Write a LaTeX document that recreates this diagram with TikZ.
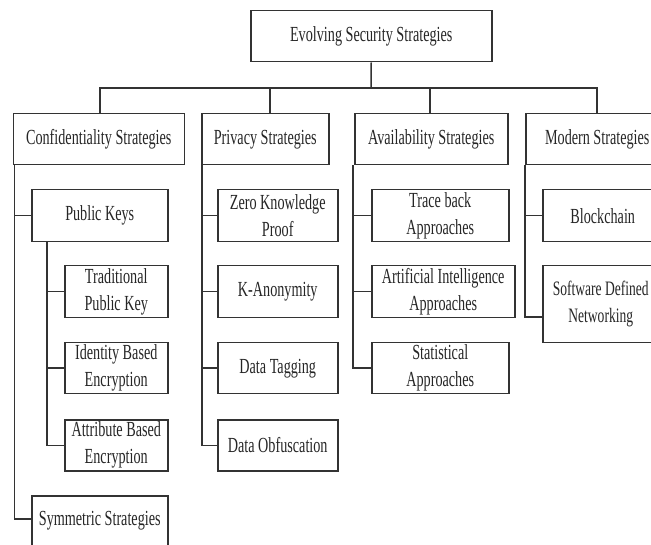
\documentclass[tikz,border=0pt]{standalone}
\usepackage{fontspec}
\setmainfont[FakeStretch=0.66]{Liberation Serif}
\begin{document}
\begin{tikzpicture}[x=1pt,y=-1pt,
  box/.style={draw=black!80, line width=1.5pt, align=center, inner sep=0pt, anchor=north west, text=black!85,
    font=\fontsize{21.5}{27}\selectfont},
  conn/.style={draw=black!80, line width=1.5pt}]
\useasboundingbox (0,0) rectangle (651,545);
\fill[white] (0,0) rectangle (651,545);
\clip (0,0) rectangle (651,545);
% root
\node[box, minimum width=241, minimum height=51] (root) at (250,10) {Evolving Security Strategies};
% level 1
\node[box, minimum width=171, minimum height=51] (conf) at (12.5,113) {Confidentiality Strategies};
\node[box, minimum width=127, minimum height=51] (priv) at (201,113) {Privacy Strategies};
\node[box, minimum width=153, minimum height=51] (avail) at (354,113) {Availability Strategies};
\node[box, minimum width=143, minimum height=51] (mod) at (525,113) {Modern Strategies};
\coordinate (bus) at (371,88);
\draw[conn] (root.south) -- (bus);
\draw[conn] (100,113) |- (bus) -| (597,113);
\draw[conn] (270,113) -- (270,88);
\draw[conn] (430,113) -- (430,88);
% confidentiality
\node[box, minimum width=136, minimum height=52] (pk) at (31,189) {Public Keys};
\node[box, minimum width=103, minimum height=52] (trad) at (64,265) {Traditional\\Public Key};
\node[box, minimum width=103, minimum height=51] (ibe) at (64,342) {Identity Based\\Encryption};
\node[box, minimum width=103, minimum height=51] (abe) at (64,419) {Attribute Based\\Encryption};
\node[box, minimum width=136, minimum height=50] (sym) at (31,495) {Symmetric Strategies};
\draw[conn] ([xshift=2pt]conf.south west) |- (pk.west);
\draw[conn] ([xshift=2pt]conf.south west) |- ([yshift=2pt]sym.west);
\draw[conn] ([xshift=16pt]pk.south west) |- (trad.west);
\draw[conn] ([xshift=16pt]pk.south west) |- (ibe.west);
\draw[conn] ([xshift=16pt]pk.south west) |- (abe.west);
% privacy
\node[box, minimum width=120, minimum height=52] (zkp) at (217,189) {Zero Knowledge\\Proof};
\node[box, minimum width=120, minimum height=52] (kan) at (217,265) {K-Anonymity};
\node[box, minimum width=120, minimum height=51] (tag) at (217,342) {Data Tagging};
\node[box, minimum width=120, minimum height=51] (obf) at (217,419) {Data Obfuscation};
\draw[conn] ([xshift=1pt]priv.south west) |- (zkp.west);
\draw[conn] ([xshift=1pt]priv.south west) |- (kan.west);
\draw[conn] ([xshift=1pt]priv.south west) |- (tag.west);
\draw[conn] ([xshift=1pt]priv.south west) |- (obf.west);
% availability
\node[box, minimum width=137, minimum height=52] (trace) at (371,189) {Trace back\\Approaches};
\node[box, minimum width=143, minimum height=52] (ai) at (371,265) {Artificial Intelligence\\Approaches};
\node[box, minimum width=137, minimum height=51] (stat) at (371,342) {Statistical\\Approaches};
\draw[conn] ([xshift=-1pt]avail.south west) |- (trace.west);
\draw[conn] ([xshift=-1pt]avail.south west) |- (ai.west);
\draw[conn] ([xshift=-1pt]avail.south west) |- (stat.west);
% modern
\node[box, minimum width=120, minimum height=52] (bc) at (542,189) {Blockchain};
\node[box, minimum width=116, minimum height=77, font=\fontsize{20.5}{27}\selectfont] (sdn) at (542,265) {Software Defined\\Networking};
\coordinate (sdnin) at (542,317);
\draw[conn] (mod.south west) |- (bc.west);
\draw[conn] (mod.south west) |- (sdnin);
\end{tikzpicture}
\end{document}
